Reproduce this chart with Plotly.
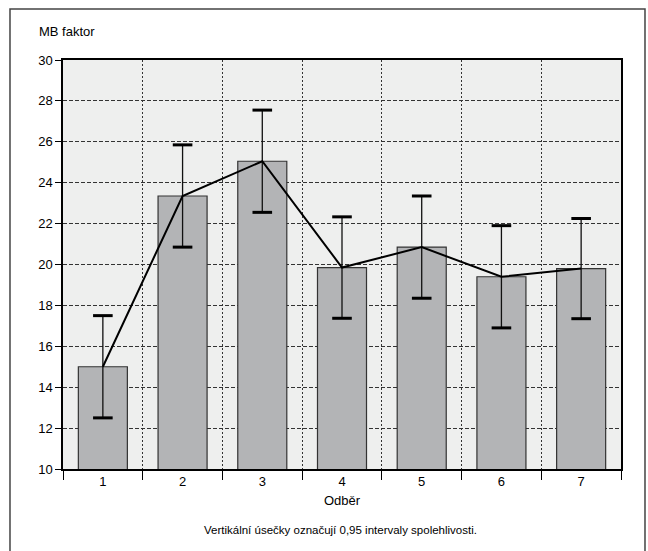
import plotly.graph_objects as go

# Sampling rounds and mean MB factor with 0.95 confidence half-widths
odber = ["1", "2", "3", "4", "5", "6", "7"]
mb_mean = [15.0, 23.35, 25.05, 19.85, 20.85, 19.4, 19.8]
ci_half = [2.5, 2.5, 2.5, 2.48, 2.5, 2.5, 2.45]
y_ticks = [10, 12, 14, 16, 18, 20, 22, 24, 26, 28, 30]

FONT = "Liberation Sans Narrow, Liberation Sans, Arial, sans-serif"

ci_low = [m - h for m, h in zip(mb_mean, ci_half)]
ci_high = [m + h for m, h in zip(mb_mean, ci_half)]

fig = go.Figure()

# Bars with thin whiskers
fig.add_trace(go.Bar(
    x=odber, y=mb_mean,
    marker=dict(color="#b3b4b6", line=dict(color="#333333", width=1.2)),
    error_y=dict(type="data", array=ci_half, visible=True,
                 color="#111111", thickness=1.3, width=7),
    showlegend=False, hoverinfo="skip",
))

# Heavier caps on the whiskers
fig.add_trace(go.Scatter(
    x=odber + odber, y=ci_low + ci_high, mode="markers",
    marker=dict(symbol="line-ew", size=14,
                line=dict(color="#000000", width=3)),
    showlegend=False, hoverinfo="skip",
))

# Line joining the means
fig.add_trace(go.Scatter(
    x=odber, y=mb_mean, mode="lines",
    line=dict(color="#000000", width=2),
    showlegend=False, hoverinfo="skip",
))

fig.update_layout(
    width=648, height=551,
    margin=dict(l=63, r=27, t=60, b=82),
    paper_bgcolor="#ffffff",
    plot_bgcolor="#eeefee",
    bargap=0.385,
    font=dict(family=FONT, size=13, color="#000000"),
    xaxis=dict(
        type="category", tickson="boundaries",
        ticks="outside", ticklen=9, tickwidth=1, tickcolor="#000000",
        showgrid=True, gridcolor="#333333", gridwidth=1, griddash="2px,2px",
        showline=True, linecolor="#000000", linewidth=1.5, mirror=True,
        tickfont=dict(family=FONT, size=13),
        range=[-0.5, 6.5], zeroline=False,
    ),
    yaxis=dict(
        range=[10, 30], tickvals=y_ticks,
        ticks="outside", ticklen=6, tickwidth=1, tickcolor="#000000",
        showgrid=True, gridcolor="#333333", gridwidth=1, griddash="4px,2px",
        showline=True, linecolor="#000000", linewidth=1.5, mirror=True,
        tickfont=dict(family=FONT, size=13),
        zeroline=False,
    ),
    annotations=[
        dict(text="MB faktor", xref="paper", yref="paper",
             x=-0.047, y=1.07, xanchor="left", yanchor="middle",
             showarrow=False, font=dict(family=FONT, size=13)),
        dict(text="Odběr", xref="paper", yref="paper",
             x=0.5, y=-0.076, xanchor="center", yanchor="middle",
             showarrow=False, font=dict(family=FONT, size=13)),
        dict(text="Vertikální úsečky označují 0,95 intervaly spolehlivosti.",
             xref="paper", yref="paper",
             x=0.497, y=-0.149, xanchor="center", yanchor="middle",
             showarrow=False, font=dict(family=FONT, size=11.5)),
    ],
    shapes=[
        dict(type="rect", xref="paper", yref="paper",
             x0=-0.095, x1=1.043, y0=-0.23, y1=1.1247,
             line=dict(color="#444444", width=1.5), layer="below"),
    ],
)

fig.write_html("out.html")
